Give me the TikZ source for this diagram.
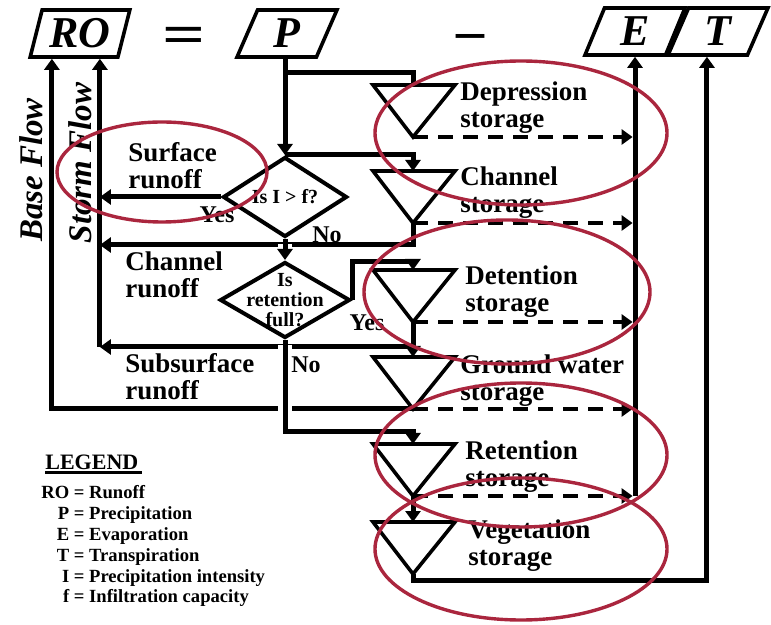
\documentclass[tikz,border=0pt]{standalone}
\usepackage{fontspec}
\setmainfont{Liberation Serif}
\usetikzlibrary{shapes.geometric, arrows.meta, calc}

\definecolor{ringred}{RGB}{170,38,62}

\begin{document}
\begin{tikzpicture}[x=0.5pt, y=-0.5pt,
        >={Triangle[length=5.5pt, width=7.5pt]},
        flow/.style={line width=2.5pt},
        seep/.style={line width=2pt, dash pattern=on 7.5pt off 5pt, shorten >=1.2pt},
        bridge/.style={draw=white, line width=7pt},
        box/.style={draw, line width=1.8pt, trapezium, trapezium left angle=72,
            trapezium right angle=108, trapezium stretches=true, minimum width=50pt,
            minimum height=23.5pt, inner sep=0pt, font=\bfseries\itshape\fontsize{22}{22}\selectfont},
        test/.style={draw, line width=2pt, diamond, inner sep=0pt},
        qtext/.style={align=center, inner sep=0pt, font=\bfseries\fontsize{10}{10}\selectfont},
        store/.style={anchor=west, align=left, inner sep=0pt, font=\bfseries\fontsize{13.5}{13.5}\selectfont},
        answer/.style={inner sep=0pt, font=\bfseries\fontsize{12}{12}\selectfont},
        flowname/.style={rotate=90, inner sep=0pt, font=\bfseries\itshape\fontsize{16.5}{16.5}\selectfont},
        ring/.style={draw=ringred, line width=1.7pt},
        tank/.pic={
            \draw[line width=1.8pt] (-40,0) -- (42,0) -- (0,52) -- cycle;
            \coordinate (-top) at (0,0);
            \coordinate (-apex) at (0,52);
        }]
        \useasboundingbox (0,0) rectangle (771,625);

        % equation
        \node[box] (RO) at (80,33.5) {RO};
        \node[box] (P) at (287,33.5) {P};
        \node[box] (E) at (635,31.5) {E};
        \node[box] (T) at (718,31.5) {T};
        \node[font=\bfseries\fontsize{28}{28}\selectfont] (eq) at (184,40) {\scalebox{1.35}[1]{=}};
        \node[font=\bfseries\fontsize{28}{28}\selectfont] (minus) at (470,42) {–};

        % decisions and storages
        \node[test, minimum width=62pt, minimum height=40pt, label={[qtext]center:Is I > f?}] (d1) at (285,197) {};
        \node[test, minimum width=65pt, minimum height=38pt, label={[qtext]center:Is\\retention\\full?}] (d2) at (285,300) {};

        \pic (dep) at (413,85) {tank};
        \pic (chan) at (413,171) {tank};
        \pic (det) at (413,270) {tank};
        \pic (gw) at (413,357) {tank};
        \pic (ret) at (413,444) {tank};
        \pic (veg) at (413,522) {tank};

        \coordinate (split) at (285,73);
        \coordinate (storm) at ($(RO.bottom left corner)+(72,0)$);
        \coordinate (base) at ($(RO.bottom left corner)+(24,0)$);
        \coordinate (chanrun) at ($(chan-apex)+(0,22)$);
        \coordinate (subrun) at ($(det-apex)+(0,25)$);

        % flows
        \draw[flow,->] (P.bottom side -| d1) -- (d1.north);
        \draw[flow] (split) -| (dep-top);
        \draw[flow,->] (d1.north) -| (chan-top);
        \draw[flow,->] (d1.west) -- (d1.west -| storm);
        \draw[flow,->] (chan-apex) -- (chanrun) -- (chanrun -| storm);
        \draw[bridge] ($(d1.south)+(0,5)$) -- ($(d2.north)+(0,-5)$);
        \draw[flow,->] (d1.south) -- (d2.north);
        \draw[flow,->] (d2.east) -- ++(0,-38) -| (det-top);
        \draw[flow,->] (det-apex) -- (subrun) -- (subrun -| storm);
        \draw[flow,->] (subrun) -- (gw-top);
        \draw[flow,->] (subrun -| storm) -- (storm);
        \draw[flow,->] (gw-apex) -| (base);
        \draw[bridge] ($(d2.south)+(0,5)$) -- ++(0,80);
        \draw[flow,->] (d2.south) -- ++(0,92) -| (ret-top);
        \draw[flow,->] (ret-apex) -- (veg-top);
        \draw[flow,->] (veg-apex) -- ++(0,6) -| (T.bottom side);
        \draw[flow,->] (E.south |- ret-apex) -- (E.south);
        \foreach \s in {dep, chan, det, gw, ret}
            \draw[seep,->] (\s-apex) -- (\s-apex -| E.south);

        % labels
        \node[store] (deplab) at (460,108) {Depression\\storage};
        \node[store] (chanlab) at (460,193) {Channel\\storage};
        \node[store] (detlab) at (465,292) {Detention\\storage};
        \node[store] (gwlab) at (460,381) {Ground water\\storage};
        \node[store] (retlab) at (465,467) {Retention\\storage};
        \node[store] (veglab) at (468,546) {Vegetation\\storage};
        \node[store] (surf) at (128,166) {Surface\\runoff};
        \node[store] (chrun) at (125,275) {Channel\\runoff};
        \node[store] (subs) at (125,377) {Subsurface\\runoff};
        \node[answer] (yes1) at (217,215) {Yes};
        \node[answer] (no1) at (327,235) {No};
        \node[answer] (yes2) at (367,323) {Yes};
        \node[answer] (no2) at (306,365) {No};
        \node[flowname] (baseflow) at (31,170) {Base Flow};
        \node[flowname] (stormflow) at (80,163) {Storm Flow};

        % legend
        \node[anchor=south west, inner sep=0pt, font=\bfseries\fontsize{11}{11}\selectfont] (legend) at (45,470) {LEGEND};
        \draw[line width=1.5pt] ([yshift=-1.5pt]legend.south west) -- ([yshift=-1.5pt, xshift=1.5pt]legend.south east);
        \node[anchor=north west, inner sep=0pt, font=\bfseries\fontsize{9.3}{10.4}\selectfont] (key) at (41,484) {%
            \begin{tabular}{@{}r@{ = }l@{}}
                RO & Runoff\\
                P & Precipitation\\
                E & Evaporation\\
                T & Transpiration\\
                I & Precipitation intensity\\
                f & Infiltration capacity
            \end{tabular}};

        % marked storages
        \draw[ring] (162,172) ellipse [x radius=105, y radius=50];
        \draw[ring] (521,133) ellipse [x radius=146, y radius=72];
        \draw[ring] (507,292) ellipse [x radius=143, y radius=72];
        \draw[ring] (521,455) ellipse [x radius=146, y radius=72];
        \draw[ring] (521,549) ellipse [x radius=146, y radius=71];
    \end{tikzpicture}
\end{document}
